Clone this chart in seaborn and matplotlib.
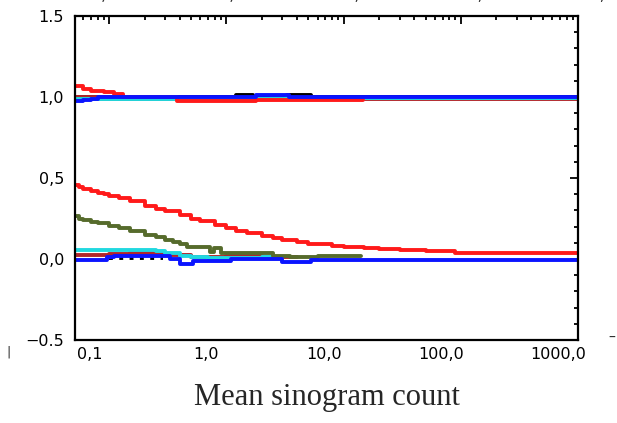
import matplotlib
matplotlib.use("Agg")
import matplotlib.pyplot as plt
import matplotlib.transforms as mtransforms
from matplotlib.ticker import LogLocator, MultipleLocator, NullFormatter
import seaborn as sns

# --- upper group (near 1.0) ---
black_top_x = [0.05, 0.1, 1.2, 1.7, 3.3, 5.3, 1000]
black_top_y = [1.0, 1.0, 1.012, 1.0, 1.012, 1.0, 1.0]
darkred_top_x = [0.05, 0.12, 0.3, 1.8, 1000]
darkred_top_y = [1.0, 0.99, 0.985, 0.99, 0.995]
green_top_x = [0.05, 0.2, 0.36, 1.7, 2.4, 1000]
green_top_y = [0.99, 0.99, 0.985, 0.99, 0.995, 0.995]
cyan_top_x = [0.05, 0.09, 0.21, 2.4, 3.2, 1000]
cyan_top_y = [0.99, 0.985, 0.99, 0.99, 0.995, 1.0]
red_top_x = [0.05, 0.06, 0.07, 0.09, 0.11, 0.13, 0.38, 1.8, 14.7]
red_top_y = [1.065, 1.05, 1.04, 1.03, 1.02, 1.0, 0.975, 0.983, 0.983]
blue_top_x = [0.05, 0.06, 0.07, 0.08, 1.8, 3.4, 1000]
blue_top_y = [0.975, 0.98, 0.99, 1.0, 1.012, 1.0, 1.0]

# --- lower group (near 0.0) ---
red_bot_x = [0.05, 0.055, 0.06, 0.07, 0.08, 0.09, 0.1, 0.12, 0.15, 0.2, 0.25, 0.3,
             0.4, 0.5, 0.6, 0.8, 1, 1.2, 1.5, 2, 2.5, 3, 4, 5, 6, 8, 10, 15, 20,
             30, 50, 90, 1000]
red_bot_y = [0.455, 0.445, 0.435, 0.42, 0.41, 0.40, 0.39, 0.375, 0.355, 0.33, 0.31,
             0.295, 0.27, 0.25, 0.235, 0.21, 0.19, 0.175, 0.16, 0.14, 0.13, 0.12,
             0.105, 0.095, 0.09, 0.08, 0.075, 0.065, 0.06, 0.055, 0.05, 0.035, 0.035]
green_bot_x = [0.05, 0.055, 0.06, 0.07, 0.08, 0.1, 0.12, 0.15, 0.2, 0.25, 0.3, 0.35,
               0.4, 0.46, 0.72, 0.78, 0.9, 1.9, 2.5, 3.5, 6, 14]
green_bot_y = [0.265, 0.25, 0.24, 0.23, 0.22, 0.205, 0.19, 0.17, 0.15, 0.135, 0.12,
               0.105, 0.09, 0.075, 0.045, 0.065, 0.04, 0.035, 0.02, 0.01, 0.02, 0.02]
cyan_bot_x = [0.05, 0.25, 0.3, 0.4, 0.5, 0.7, 2, 3]
cyan_bot_y = [0.055, 0.05, 0.04, 0.02, 0.01, 0.005, 0.01, 0.01]
darkred_bot_x = [0.05, 0.1, 0.15, 0.3, 0.5, 0.7, 1, 2, 4]
darkred_bot_y = [0.025, 0.03, 0.035, 0.025, 0.01, 0.01, 0.02, 0.01, 0.01]
black_bot_x = [0.1, 0.29]
black_bot_y = [0.008, 0.008]
blue_bot_x = [0.05, 0.095, 0.11, 0.33, 0.4, 0.52, 1.1, 3, 5.3, 1000]
blue_bot_y = [-0.005, 0.01, 0.02, 0.0, -0.03, -0.012, 0.0, -0.02, -0.005, -0.005]

x_ticks = [0.1, 1, 10, 100, 1000]
x_labels = ["0,1", "1,0", "10,0", "100,0", "1000,0"]
y_ticks = [-0.5, 0.0, 0.5, 1.0, 1.5]
y_labels = ["\u22120.5", "0,0", "0,5", "1,0", "1.5"]

sns.set_style("white")
plt.rcParams["font.family"] = ["DejaVu Sans"]

fig = plt.figure(figsize=(6.17, 4.23), dpi=100)
ax = fig.add_axes([75 / 617, 1 - 340 / 423, (578 - 75) / 617, (340 - 16) / 423])

RED = "#ff1a1a"
BLUE = "#0a14ff"
CYAN = "#20d8e0"
GREEN = "#566b2c"
DARKRED = "#b0262a"
LW = 2.8

series = [
    (black_top_x, black_top_y, "black", "-"),
    (darkred_top_x, darkred_top_y, DARKRED, "-"),
    (green_top_x, green_top_y, GREEN, "-"),
    (cyan_top_x, cyan_top_y, CYAN, "-"),
    (red_top_x, red_top_y, RED, "-"),
    (blue_top_x, blue_top_y, BLUE, "-"),
    (darkred_bot_x, darkred_bot_y, DARKRED, "-"),
    (cyan_bot_x, cyan_bot_y, CYAN, "-"),
    (green_bot_x, green_bot_y, GREEN, "-"),
    (red_bot_x, red_bot_y, RED, "-"),
    (black_bot_x, black_bot_y, "black", ":"),
    (blue_bot_x, blue_bot_y, BLUE, "-"),
]
for xs, ys, col, ls in series:
    sns.lineplot(x=xs, y=ys, ax=ax, color=col, linestyle=ls, linewidth=LW,
                 drawstyle="steps-post", estimator=None, sort=False)

ax.set_xscale("log")
ax.set_xlim(0.051, 1000)
ax.set_ylim(-0.5, 1.5)

ax.set_xticks(x_ticks)
ax.set_xticklabels(x_labels)
ax.xaxis.set_minor_locator(LogLocator(base=10, subs=range(2, 10)))
ax.xaxis.set_minor_formatter(NullFormatter())
ax.set_yticks(y_ticks)
ax.set_yticklabels(y_labels)
ax.yaxis.set_minor_locator(MultipleLocator(0.1))

ax.tick_params(which="both", direction="in", top=True, right=True, width=1.3,
               colors="black", labelsize=11.5)
ax.tick_params(which="major", length=6)
ax.tick_params(which="minor", length=3)
ax.tick_params(axis="y", pad=8)
ax.tick_params(axis="x", pad=5)

# tick labels sit a little left of their tick marks in the original
shift = mtransforms.ScaledTranslation(-20 / 100, 0, fig.dpi_scale_trans)
for lab in ax.get_xticklabels():
    lab.set_transform(lab.get_transform() + shift)

for s in ax.spines.values():
    s.set_linewidth(1.6)
    s.set_color("black")

ax.set_xlabel("Mean sinogram count", family="Liberation Serif", fontsize=22,
              labelpad=15)

# fragments of neighbouring panels cut off at the edges
for xp, t in zip([104, 232, 352, 470, 587], x_labels):
    fig.text(xp / 617, 1 - 3 / 423, t, ha="center", va="bottom", fontsize=11.5,
             color="#333333")
fig.text(8 / 617, 1 - 352 / 423, "|", ha="center", va="center", fontsize=9)
fig.text(612 / 617, 1 - 338 / 423, "\u2013", ha="center", va="center", fontsize=10)

fig.savefig("out.png", dpi=100)
